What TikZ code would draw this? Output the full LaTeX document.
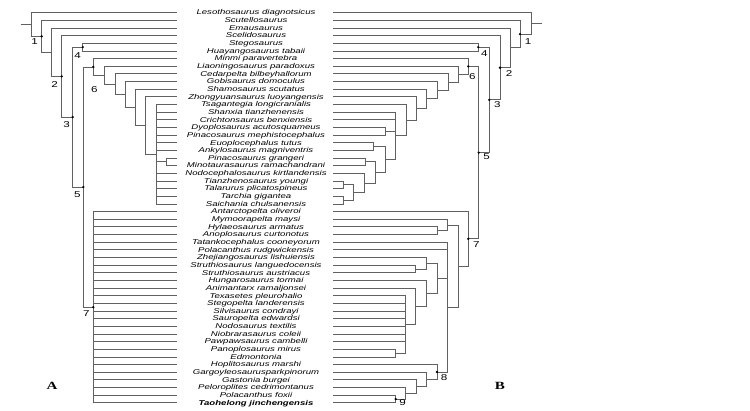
\documentclass[tikz,border=0pt]{standalone}
\usepackage{fontspec}
\newfontfamily\taxonfont[FakeStretch=1.37]{Liberation Sans}
\newfontfamily\panelfont[FakeStretch=1.37]{Liberation Serif}

\begin{document}
\begin{tikzpicture}[x=1pt, y=-1pt,
    taxon/.style={inner sep=0pt, text height=4.6pt, text depth=0pt, font=\taxonfont\itshape\fontsize{7}{8}\selectfont},
    branch/.style={draw=black!62, line width=0.8pt},
    num/.style={inner sep=0pt, font=\taxonfont\fontsize{8.5}{9}\selectfont},
    panel/.style={inner sep=0pt, font=\panelfont\bfseries\fontsize{11}{12}\selectfont}]
    \useasboundingbox (0,0) rectangle (750,411);
    \fill[white] (0,0) rectangle (750,411);
    % Taxa
    \foreach \name [count=\i] in {Lesothosaurus diagnotsicus, Scutellosaurus, Emausaurus,
        Scelidosaurus, Stegosaurus, Huayangosaurus tabaii, Minmi paravertebra,
        Liaoningosaurus paradoxus, Cedarpelta bilbeyhallorum, Gobisaurus domoculus,
        Shamosaurus scutatus, Zhongyuansaurus luoyangensis, Tsagantegia longicranialis,
        Shanxia tianzhenensis, Crichtonsaurus benxiensis, Dyoplosaurus acutosquameus,
        Pinacosaurus mephistocephalus, Euoplocephalus tutus, Ankylosaurus magniventris,
        Pinacosaurus grangeri, Minotaurasaurus ramachandrani, Nodocephalosaurus kirtlandensis,
        Tianzhenosaurus youngi, Talarurus plicatospineus, Tarchia gigantea,
        Saichania chulsanensis, Antarctopelta oliveroi, Mymoorapelta maysi,
        Hylaeosaurus armatus, Anoplosaurus curtonotus, Tatankocephalus cooneyorum,
        Polacanthus rudgwickensis, Zhejiangosaurus lishuiensis, Struthiosaurus languedocensis,
        Struthiosaurus austriacus, Hungarosaurus tormai, Animantarx ramaljonsei,
        Texasetes pleurohalio, Stegopelta landerensis, Silvisaurus condrayi,
        Sauropelta edwardsi, Nodosaurus textilis, Niobrarasaurus coleii,
        Pawpawsaurus cambelli, Panoplosaurus mirus, Edmontonia, Hoplitosaurus marshi,
        Gargoyleosaurusparkpinorum, Gastonia burgei, Peloroplites cedrimontanus,
        Polacanthus foxii, Taohelong jinchengensis} {
        \pgfmathsetmacro{\ry}{12.7+(\i-1)*7.65}
        \coordinate (L-\i) at (176.7,\ry);
        \coordinate (R-\i) at (333,\ry);
        \ifnum \i=52
            \node[taxon, font=\taxonfont\bfseries\itshape\fontsize{7}{8}\selectfont] (T-\i) at (256,\ry) {\name};
        \else
            \node[taxon] (T-\i) at (256,\ry) {\name};
        \fi
    }
    % Tree A
    \coordinate (A-stub) at (20.7,24.49);
    \coordinate (A0) at (31.7,24.49);
    \coordinate (A1) at (41.7,36.27);
    \coordinate (Aa) at (51.7,52.19);
    \coordinate (A2) at (61.7,76.38);
    \coordinate (A3) at (72.7,117.1);
    \coordinate (A4) at (82.7,47.13);
    \coordinate (A5) at (83.3,187.07);
    \coordinate (A6) at (93.3,66.91);
    \coordinate (Anb) at (104,75.22);
    \coordinate (Anc) at (115,84.18);
    \coordinate (And) at (125,94.46);
    \coordinate (Ane) at (135,107.37);
    \coordinate (Anf) at (145.7,125.54);
    \coordinate (Ang) at (156,154.23);
    \coordinate (Apg) at (166,161.88);
    \coordinate (A7) at (93.3,307.23);
    \draw[branch] (A-stub) -- (A0);
    \foreach \p/\c in {A0/L-1, A0/A1, A1/L-2, A1/Aa, Aa/L-3, Aa/A2, A2/L-4, A2/A3,
        A3/A4, A3/A5, A4/L-5, A4/L-6, A5/A6, A5/A7, A6/L-7, A6/Anb, Anb/L-8, Anb/Anc,
        Anc/L-9, Anc/And, And/L-10, And/Ane, Ane/L-11, Ane/Anf, Anf/L-12, Anf/Ang,
        Ang/Apg, Apg/L-20, Apg/L-21} {
        \draw[branch] (\p) |- (\c);
    }
    \foreach \c in {13,...,19,22,23,24,25,26} {
        \draw[branch] (Ang) |- (L-\c);
    }
    \foreach \c in {27,...,52} {
        \draw[branch] (A7) |- (L-\c);
    }
    % Tree B
    \coordinate (B-stub) at (541.7,23.41);
    \coordinate (B0) at (531.7,23.41);
    \coordinate (B1) at (520,34.12);
    \coordinate (Ba) at (510,47.88);
    \coordinate (B2) at (500,67.76);
    \coordinate (B3) at (489.3,99.87);
    \coordinate (B4) at (478.3,47.13);
    \coordinate (B5) at (478.7,152.6);
    \coordinate (B6) at (468.3,66.38);
    \coordinate (Bz1) at (458.3,74.15);
    \coordinate (Bz2) at (448,82.05);
    \coordinate (Bz3) at (437.3,90.2);
    \coordinate (Bz4) at (426.7,98.85);
    \coordinate (Bz5) at (416,108.5);
    \coordinate (Bz6) at (406,120.16);
    \coordinate (By) at (395.5,135.82);
    \coordinate (Bdp) at (385,131.28);
    \coordinate (Bw) at (385,159.49);
    \coordinate (Bea) at (373.3,146.58);
    \coordinate (Bx) at (375,172.39);
    \coordinate (Bpg) at (365,161.88);
    \coordinate (Bq) at (364.3,182.91);
    \coordinate (Br) at (353.3,192.48);
    \coordinate (Bt1) at (343.3,184.83);
    \coordinate (Bt2) at (343.3,200.13);
    \coordinate (B7) at (468.3,238.83);
    \coordinate (Bc2) at (458.3,266.05);
    \coordinate (Bh) at (447.7,224.99);
    \coordinate (Bha) at (437.3,230.73);
    \coordinate (Bc3) at (447.7,307.1);
    \coordinate (Bc4) at (437,278.3);
    \coordinate (Bc5) at (426.3,263.24);
    \coordinate (Bsa) at (415.7,268.98);
    \coordinate (Bc6) at (426.3,293.36);
    \coordinate (Bc7) at (415.7,306.27);
    \coordinate (Bc8) at (405.7,324.44);
    \coordinate (Bpe) at (395.7,353.13);
    \coordinate (B8) at (437,372.01);
    \coordinate (Bc9) at (426.7,379.42);
    \coordinate (Bc10) at (416.3,386.6);
    \coordinate (Bc11) at (405.7,393.29);
    \coordinate (B9) at (395.7,399.03);
    \draw[branch] (B-stub) -- (B0);
    \foreach \p/\c in {B0/R-1, B0/B1, B1/R-2, B1/Ba, Ba/R-3, Ba/B2, B2/R-4, B2/B3,
        B3/B4, B3/B5, B4/R-5, B4/R-6, B5/B6, B5/B7, B6/R-7, B6/Bz1, Bz1/R-8, Bz1/Bz2,
        Bz2/R-9, Bz2/Bz3, Bz3/R-10, Bz3/Bz4, Bz4/R-11, Bz4/Bz5, Bz5/R-12, Bz5/Bz6,
        Bz6/R-13, Bz6/By, By/R-14, By/R-15, By/Bdp, By/Bw, Bdp/R-16, Bdp/R-17,
        Bw/Bea, Bw/Bx, Bea/R-18, Bea/R-19, Bx/Bpg, Bx/Bq, Bpg/R-20, Bpg/R-21,
        Bq/R-22, Bq/Br, Br/Bt1, Br/Bt2, Bt1/R-23, Bt1/R-24, Bt2/R-25, Bt2/R-26,
        B7/R-27, B7/Bc2, Bc2/Bh, Bc2/Bc3, Bh/R-28, Bh/Bha, Bha/R-29, Bha/R-30,
        Bc3/R-31, Bc3/R-32, Bc3/Bc4, Bc3/B8, Bc4/Bc5, Bc4/Bc6, Bc5/R-33, Bc5/Bsa,
        Bsa/R-34, Bsa/R-35, Bc6/R-36, Bc6/Bc7, Bc7/R-37, Bc7/Bc8, Bc8/Bpe,
        Bpe/R-45, Bpe/R-46, B8/R-47, B8/Bc9, Bc9/R-48, Bc9/Bc10, Bc10/R-49,
        Bc10/Bc11, Bc11/R-50, Bc11/B9, B9/R-51, B9/R-52} {
        \draw[branch] (\p) |- (\c);
    }
    \foreach \c in {38,...,44} {
        \draw[branch] (Bc8) |- (R-\c);
    }
    % Node numbers
    \foreach \n/\dx/\dy in {1/-7/5, 2/-7/8, 3/-6/7, 4/-5/8, 5/-6/8, 6/1/23, 7/-7/6} {
        \fill (A\n) circle (1.3);
        \node[num] (A\n-lab) at ([shift={(\dx,\dy)}]A\n) {\n};
    }
    \foreach \n/\dx/\dy in {1/8/7, 2/9/6, 3/8/5, 4/6/6, 5/8/4, 6/4/10, 7/8/6, 8/7/6, 9/7/4} {
        \fill (B\n) circle (1.3);
        \node[num] (B\n-lab) at ([shift={(\dx,\dy)}]B\n) {\n};
    }
    % Panels
    \node[panel] (panel-A) at (52,386) {A};
    \node[panel] (panel-B) at (500,386) {B};
\end{tikzpicture}
\end{document}
